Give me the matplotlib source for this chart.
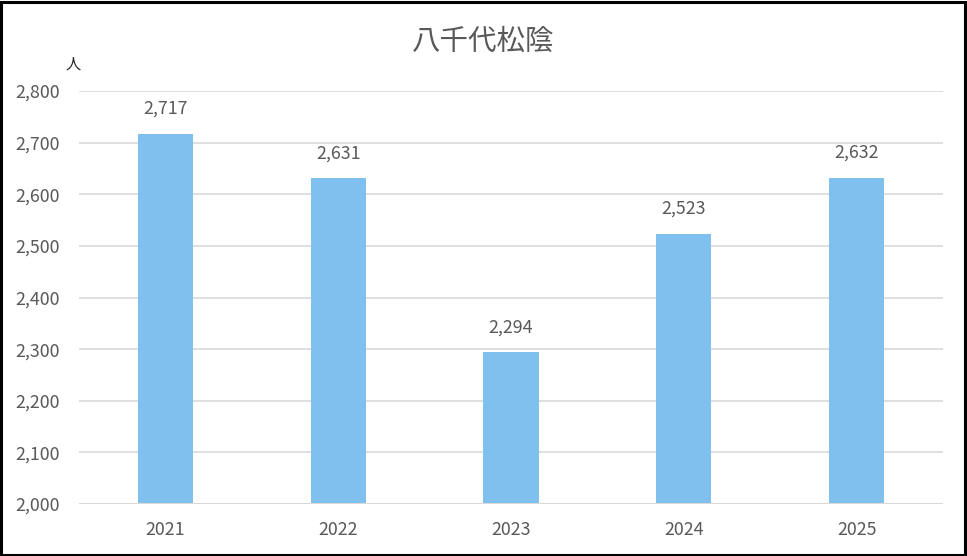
import matplotlib
matplotlib.use("Agg")
import matplotlib.pyplot as plt
from matplotlib.patches import Rectangle

plt.rcParams['font.family'] = ['Noto Sans CJK JP', 'DejaVu Sans']

years = ["2021", "2022", "2023", "2024", "2025"]
values = [2717, 2631, 2294, 2523, 2632]
yticks = [2000, 2100, 2200, 2300, 2400, 2500, 2600, 2700, 2800]
title = "八千代松陰"
unit = "人"

text_color = "#595959"
bar_color = "#7fc0ee"
grid_color = "#d9d9d9"

fig = plt.figure(figsize=(9.67, 5.56), dpi=100)
ax = fig.add_axes([79/967, 1-504/556, 864/967, 413/556])

x = range(len(years))
ax.bar(x, values, width=0.32, color=bar_color, zorder=3)
ax.set_xlim(-0.5, len(years)-0.5)
ax.set_ylim(2000, 2800)
ax.set_yticks(yticks)
ax.set_yticklabels([f"{v:,}" for v in yticks], color=text_color, fontsize=12.8)
ax.set_xticks(list(x))
ax.set_xticklabels(years, color=text_color, fontsize=12.8)
ax.tick_params(length=0)
ax.tick_params(axis='x', pad=12)
ax.tick_params(axis='y', pad=13.5)
ax.grid(axis='y', color=grid_color, linewidth=1.2, zorder=0)
for s in ax.spines.values():
    s.set_visible(False)
ax.axhline(2000, color=grid_color, linewidth=1.5, zorder=4)

for i, v in enumerate(values):
    ax.annotate(f"{v:,}", (i, v), xytext=(0, 18), textcoords="offset points",
                ha="center", va="center", color=text_color, fontsize=12.8)

fig.text(0.5, 1-42/556, title, ha="center", va="center", fontsize=20.5, color=text_color)
fig.text(73/967, 1-64/556, unit, ha="center", va="center", fontsize=11, color="#262626")

fig.patches.append(Rectangle((0.001, 0.002), 0.997, 0.995, transform=fig.transFigure,
                             fill=False, edgecolor="black", linewidth=2.2))

fig.savefig("out.png", dpi=100)
